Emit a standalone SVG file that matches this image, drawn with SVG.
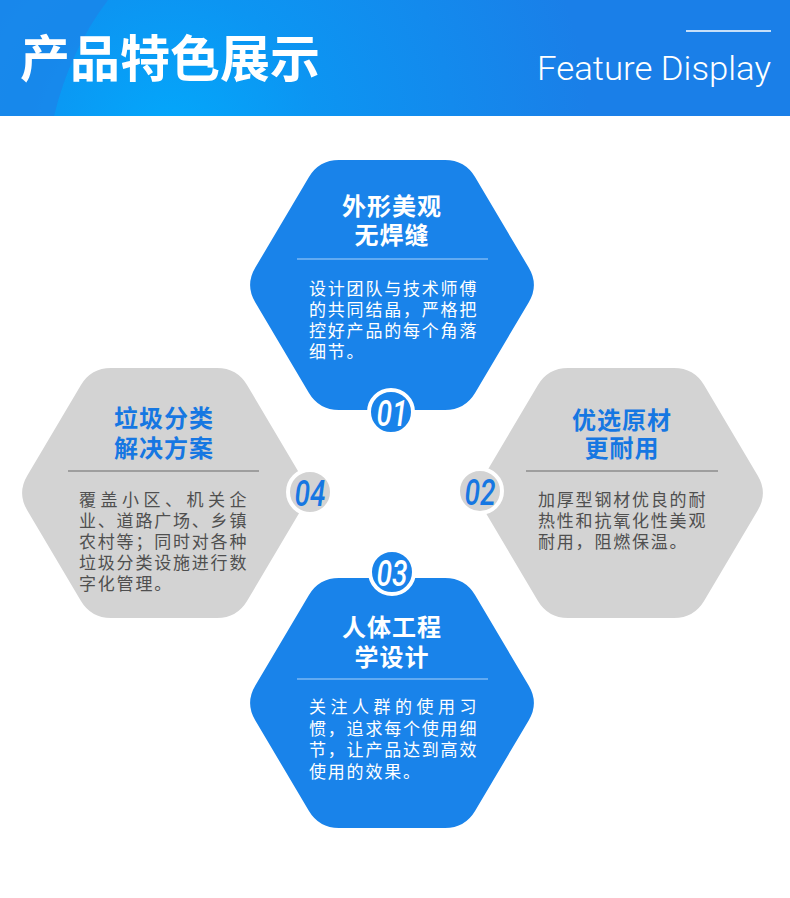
<svg xmlns="http://www.w3.org/2000/svg" xmlns:xlink="http://www.w3.org/1999/xlink" width="790" height="898" viewBox="0 0 790 898">
<defs>
<radialGradient id="hdrG" cx="170" cy="140" r="420" gradientUnits="userSpaceOnUse">
<stop offset="0" stop-color="#03a8fb"/>
<stop offset="0.35" stop-color="#0c95f2"/>
<stop offset="1" stop-color="#1a7fe8"/>
</radialGradient>
<path id="hex" d="M -53,-125 L 53,-125 Q 73,-125 83.19,-107.79 L 136.81,-17.21 Q 147,0 136.81,17.21 L 83.19,107.79 Q 73,125 53,125 L -53,125 Q -73,125 -83.19,107.79 L -136.81,17.21 Q -147,0 -136.81,-17.21 L -83.19,-107.79 Q -73,-125 -53,-125 Z"/>
</defs>
<style>
.blue{fill:#1983ea}
.gray{fill:#d3d3d3}
.t{font-family:"Noto Sans CJK SC","Noto Sans",sans-serif;font-weight:700;font-size:24px;letter-spacing:1px;text-anchor:middle}
.tw{fill:#ffffff}
.tb{fill:#1677e2}
.b{font-family:"Noto Sans CJK SC","Noto Sans",sans-serif;font-size:17px;letter-spacing:1.8px}
.bw{fill:#ffffff}
.bg{fill:#4f4f4f}
.lw{stroke:#a9d2fa;stroke-width:1.2}
.lg{stroke:#6a6a6a;stroke-width:1.2}
.ring{stroke:#ffffff;stroke-width:4}
.num{font-family:Roboto,"Liberation Sans",sans-serif;font-style:italic;font-weight:500;font-size:36px;text-anchor:middle}
</style>
<rect x="0" y="0" width="790" height="898" fill="#ffffff"/>
<g id="header">
<rect x="0" y="0" width="790" height="116" fill="url(#hdrG)"/>
<path d="M0,0 L108,0 Q70,50 54,116 L0,116 Z" fill="#1a86ea" opacity="0.85"/>
<text x="20" y="77" font-family="'Noto Sans CJK SC',sans-serif" font-weight="700" font-size="50" fill="#ffffff">产品特色展示</text>
<line x1="686" y1="31" x2="771" y2="31" stroke="#ffffff" stroke-width="1.5"/>
<text x="771" y="80" font-family="Roboto,'Liberation Sans',sans-serif" font-weight="300" font-size="33" fill="#ffffff" text-anchor="end" textLength="234" lengthAdjust="spacingAndGlyphs">Feature Display</text>
</g>
<g id="connectors"></g>
<g id="node-04">
<use xlink:href="#hex" href="#hex" x="164" y="493" class="gray"/>
<text class="t tb" x="164" y="427">垃圾分类</text>
<text class="t tb" x="164" y="457">解决方案</text>
<line class="lg" x1="68" y1="471" x2="259" y2="471"/>
<text class="b bg" x="79" y="506" style="letter-spacing:4.5px">覆盖小区、机关企</text>
<text class="b bg" x="79" y="527">业、道路广场、乡镇</text>
<text class="b bg" x="79" y="548">农村等；同时对各种</text>
<text class="b bg" x="79" y="569">垃圾分类设施进行数</text>
<text class="b bg" x="79" y="590">字化管理。</text>
<circle class="gray ring" cx="310" cy="492" r="22"/>
<text class="num" x="310" y="506" fill="#1677e2" textLength="31" lengthAdjust="spacingAndGlyphs">04</text>
</g>
<g id="node-02">
<use xlink:href="#hex" href="#hex" x="621" y="493" class="gray"/>
<text class="t tb" x="622" y="429">优选原材</text>
<text class="t tb" x="622" y="457">更耐用</text>
<line class="lg" x1="526" y1="471" x2="718" y2="471"/>
<text class="b bg" x="538" y="506">加厚型钢材优良的耐</text>
<text class="b bg" x="538" y="527">热性和抗氧化性美观</text>
<text class="b bg" x="538" y="548">耐用，阻燃保温。</text>
<circle class="gray ring" cx="480" cy="491" r="22"/>
<text class="num" x="480" y="505" fill="#1677e2" textLength="31" lengthAdjust="spacingAndGlyphs">02</text>
</g>
<g id="node-01">
<use xlink:href="#hex" href="#hex" x="392" y="285" class="blue"/>
<text class="t tw" x="392" y="215">外形美观</text>
<text class="t tw" x="392" y="244">无焊缝</text>
<line class="lw" x1="297" y1="259" x2="488" y2="259"/>
<text class="b bw" x="309" y="295">设计团队与技术师傅</text>
<text class="b bw" x="309" y="316">的共同结晶，严格把</text>
<text class="b bw" x="309" y="337">控好产品的每个角落</text>
<text class="b bw" x="309" y="358">细节。</text>
<circle class="blue ring" cx="391" cy="412" r="22"/>
<text class="num" x="392" y="426" fill="#ffffff" textLength="31" lengthAdjust="spacingAndGlyphs">01</text>
</g>
<g id="node-03">
<use xlink:href="#hex" href="#hex" x="392" y="703" class="blue"/>
<text class="t tw" x="392" y="636">人体工程</text>
<text class="t tw" x="392" y="666">学设计</text>
<line class="lw" x1="297" y1="679" x2="488" y2="679"/>
<text class="b bw" x="309" y="713" style="letter-spacing:4.5px">关注人群的使用习</text>
<text class="b bw" x="309" y="735">惯，追求每个使用细</text>
<text class="b bw" x="309" y="756">节，让产品达到高效</text>
<text class="b bw" x="309" y="778">使用的效果。</text>
<circle class="blue ring" cx="392" cy="572" r="22"/>
<text class="num" x="392" y="586" fill="#ffffff" textLength="31" lengthAdjust="spacingAndGlyphs">03</text>
</g>
</svg>
